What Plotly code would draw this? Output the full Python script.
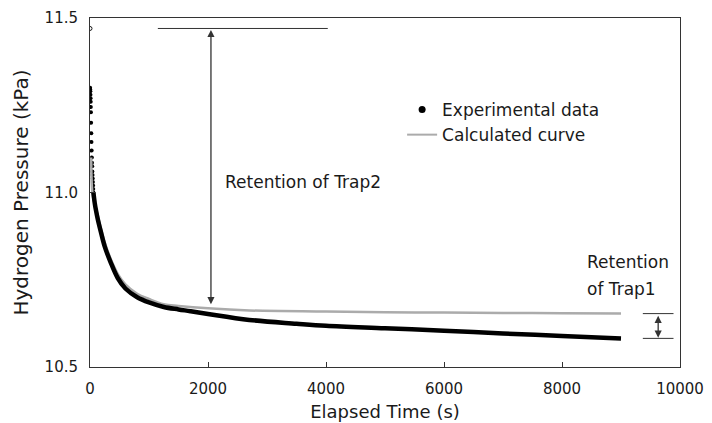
import plotly.graph_objects as go

# Hydrogen pressure in the chamber after exposure (kPa) vs elapsed time (s)
exp_time = [0, 2, 4, 6, 8, 10, 12, 14, 16, 19, 22, 25, 28, 31, 34, 37, 40, 43, 46,
            49, 52, 55, 58,
            80, 100, 130, 180, 250, 350, 470, 600, 800, 1000, 1250, 1500, 1700, 2000,
            2700, 3500, 4000, 5000, 6000, 7000, 8000, 9000]
exp_pressure = [11.47, 11.30, 11.295, 11.29, 11.28, 11.27, 11.26, 11.245, 11.23, 11.20,
                11.17, 11.145, 11.12, 11.10, 11.085, 11.075, 11.06, 11.05, 11.04,
                11.03, 11.02, 11.01, 11.00,
                10.97, 10.95, 10.925, 10.89, 10.845, 10.80, 10.755, 10.725, 10.70,
                10.685, 10.672, 10.665, 10.66, 10.652, 10.635, 10.624, 10.618, 10.611,
                10.604, 10.596, 10.589, 10.582]

calc_time = [20, 40, 80, 130, 180, 250, 350, 470, 600, 800, 1000, 1250, 1500, 2000,
             2700, 4000, 5000, 6000, 7000, 8000, 9000]
calc_pressure = [11.10, 11.00, 10.965, 10.935, 10.90, 10.857, 10.81, 10.767, 10.737,
                 10.71, 10.695, 10.68, 10.675, 10.668, 10.662, 10.659, 10.657, 10.656,
                 10.655, 10.654, 10.653]

x_ticks = [0, 2000, 4000, 6000, 8000, 10000]
x_tick_text = ["0", "2000", "4000", "6000", "8000", "10000"]
y_ticks = [10.5, 11.0, 11.5]

# annotation geometry (data units)
trap2_x = 2050
trap2_span = [1150, 4030]
trap2_arrow_end = 10.68
trap1_x = 9630
trap1_span = [9370, 9890]

FONT = "DejaVu Sans"
INK = "#1a1a1a"

# early, rapidly falling readings are shown as separate dots; the rest as a dense band
sparse_cut = 23
fig = go.Figure()

fig.add_trace(go.Scatter(
    x=exp_time[:1], y=exp_pressure[:1], mode="markers",
    marker=dict(symbol="circle-open", size=4, color=INK, line=dict(width=1)),
    showlegend=False, hoverinfo="skip"))
fig.add_trace(go.Scatter(
    x=exp_time[1:sparse_cut], y=exp_pressure[1:sparse_cut], mode="markers",
    marker=dict(size=4, color="black"), showlegend=False))
fig.add_trace(go.Scatter(
    x=calc_time, y=calc_pressure, mode="lines", line_shape="spline",
    line=dict(color="#ababab", width=2.5), showlegend=False))
fig.add_trace(go.Scatter(
    x=exp_time[sparse_cut - 1:], y=exp_pressure[sparse_cut - 1:], mode="lines",
    line_shape="spline", line=dict(color="black", width=4.5), showlegend=False))

# legend entries
fig.add_trace(go.Scatter(x=[None], y=[None], mode="markers", name="Experimental data",
                         marker=dict(size=7, color="black")))
fig.add_trace(go.Scatter(x=[None], y=[None], mode="lines", name="Calculated curve",
                         line=dict(color="#ababab", width=2)))

line_style = dict(color="#333333", width=1)
top_level = exp_pressure[0]
calc_end = calc_pressure[-1]
exp_end = exp_pressure[-1]

shapes = [
    dict(type="line", xref="x", yref="y", x0=trap2_span[0], x1=trap2_span[1],
         y0=top_level, y1=top_level, line=line_style),
    dict(type="line", xref="x", yref="y", x0=trap1_span[0], x1=trap1_span[1],
         y0=calc_end, y1=calc_end, line=line_style),
    dict(type="line", xref="x", yref="y", x0=trap1_span[0], x1=trap1_span[1],
         y0=exp_end, y1=exp_end, line=line_style),
]

arrow = dict(text="", showarrow=True, axref="x", ayref="y", arrowside="end+start",
             arrowhead=2, arrowsize=1.1, arrowwidth=1.3, arrowcolor="#333333",
             standoff=0, startstandoff=0)
annotations = [
    dict(x=trap2_x, y=trap2_arrow_end, ax=trap2_x, ay=top_level, **arrow),
    dict(x=trap1_x, y=exp_end + 0.002, ax=trap1_x, ay=calc_end - 0.002, **arrow),
    dict(x=2250, y=11.03, text="Retention of Trap2", showarrow=False,
         xanchor="left", yanchor="middle", font=dict(size=17, color=INK, family=FONT)),
    dict(x=8390, y=10.80, text="Retention", showarrow=False,
         xanchor="left", yanchor="middle", font=dict(size=17, color=INK, family=FONT)),
    dict(x=8390, y=10.723, text="of Trap1", showarrow=False,
         xanchor="left", yanchor="middle", font=dict(size=17, color=INK, family=FONT)),
]

axis_common = dict(showline=True, linecolor="#333333", linewidth=1, mirror=True,
                   ticks="inside", ticklen=5, tickcolor="#333333", showgrid=False,
                   zeroline=False, automargin=False,
                   tickfont=dict(size=15, color=INK, family=FONT))

fig.update_layout(
    width=712, height=423,
    margin=dict(l=90, r=32, t=18, b=56),
    paper_bgcolor="white", plot_bgcolor="white",
    font=dict(family=FONT, color=INK),
    xaxis=dict(range=[0, 10000], tickvals=x_ticks, ticktext=x_tick_text,
               ticklabelstandoff=8,
               title=dict(text="Elapsed Time (s)", font=dict(size=18, family=FONT),
                          standoff=8),
               **axis_common),
    yaxis=dict(range=[10.5, 11.5], tickvals=y_ticks, tickformat=".1f",
               ticklabelstandoff=8,
               title=dict(text="Hydrogen Pressure (kPa)", font=dict(size=20, family=FONT),
                          standoff=10),
               **axis_common),
    legend=dict(x=0.529, y=0.788, xanchor="left", yanchor="top",
                bgcolor="rgba(0,0,0,0)", font=dict(size=17, color=INK, family=FONT),
                itemwidth=30, tracegroupgap=0),
    shapes=shapes,
    annotations=annotations,
)

fig.write_html("out.html")
